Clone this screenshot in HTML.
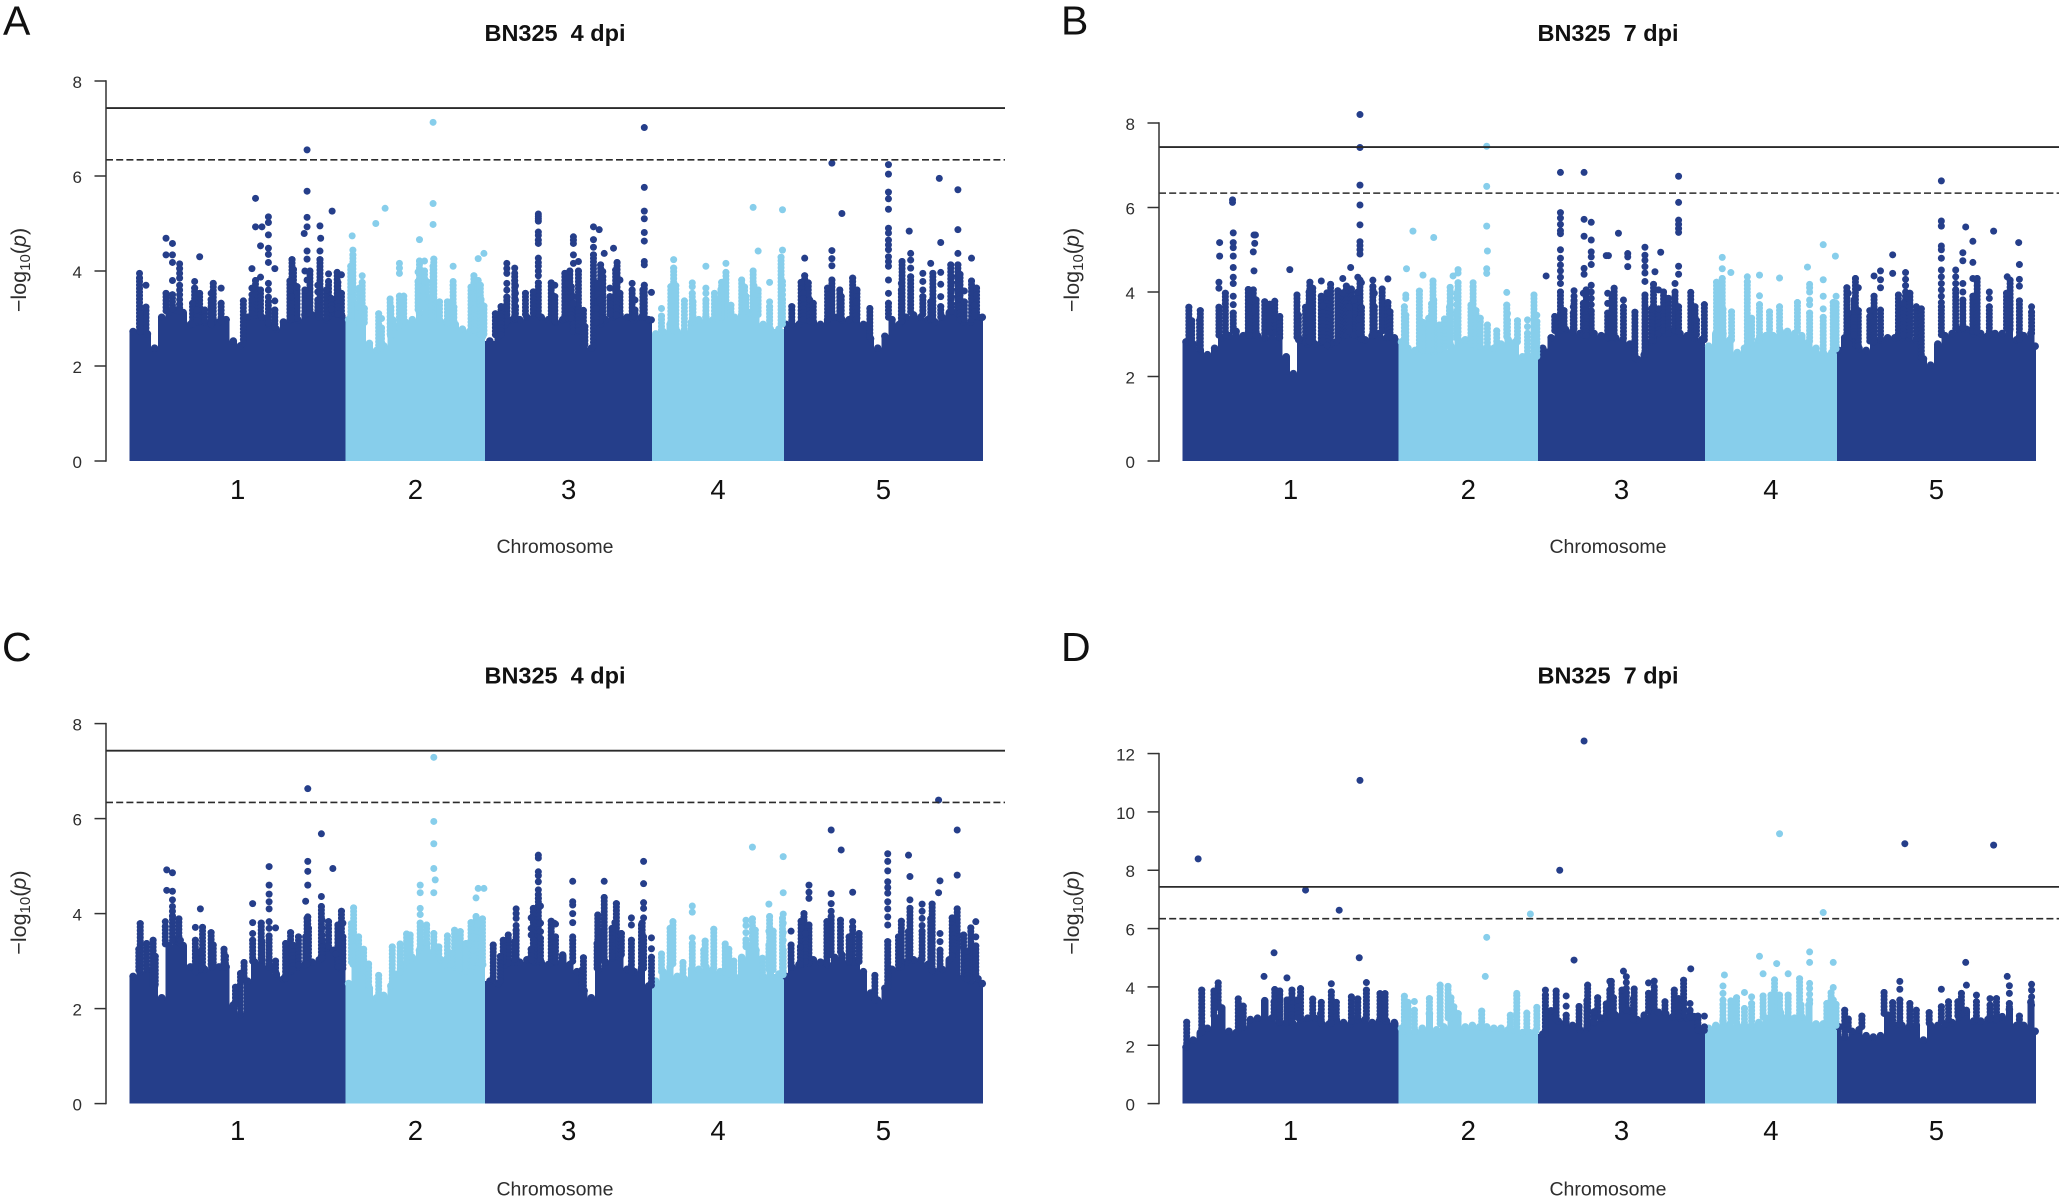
<!DOCTYPE html>
<html lang="en">
<head>
<meta charset="utf-8">
<title>BN325 Manhattan plots</title>
<style>
html,body{margin:0;padding:0;background:#fff;}
svg{display:block;}
text{font-family:"Liberation Sans",sans-serif;fill:#2e2e2e;}
.letter{font-size:41px;fill:#111;}
.title{font-size:23.5px;font-weight:bold;fill:#111;white-space:pre;}
.xtitle{font-size:19.5px;text-anchor:middle;}
.ytitle{font-size:21.5px;text-anchor:middle;}
</style>
</head>
<body>
<svg id="fig" xmlns="http://www.w3.org/2000/svg" width="2063" height="1200" viewBox="0 0 2063 1200">
  <rect width="2063" height="1200" fill="#ffffff"/>

  <g id="panel-a"></g>
  <text class="letter" x="3" y="34.5">A</text>
  <text class="title" x="555" y="41" text-anchor="middle" xml:space="preserve">BN325  4 dpi</text>
  <text class="xtitle" x="555" y="553">Chromosome</text>
  <text class="ytitle" transform="translate(26,270) rotate(-90)">−log<tspan font-size="15" dy="4">10</tspan><tspan dy="-4">(</tspan><tspan font-style="italic">p</tspan>)</text>

  <g id="panel-b"></g>
  <text class="letter" x="1061" y="34.5">B</text>
  <text class="title" x="1608" y="41" text-anchor="middle" xml:space="preserve">BN325  7 dpi</text>
  <text class="xtitle" x="1608" y="553">Chromosome</text>
  <text class="ytitle" transform="translate(1079,270) rotate(-90)">−log<tspan font-size="15" dy="4">10</tspan><tspan dy="-4">(</tspan><tspan font-style="italic">p</tspan>)</text>

  <g id="panel-c"></g>
  <text class="letter" x="2" y="661">C</text>
  <text class="title" x="555" y="683.6" text-anchor="middle" xml:space="preserve">BN325  4 dpi</text>
  <text class="xtitle" x="555" y="1195.6">Chromosome</text>
  <text class="ytitle" transform="translate(26,912.6) rotate(-90)">−log<tspan font-size="15" dy="4">10</tspan><tspan dy="-4">(</tspan><tspan font-style="italic">p</tspan>)</text>

  <g id="panel-d"></g>
  <text class="letter" x="1061" y="661">D</text>
  <text class="title" x="1608" y="683.6" text-anchor="middle" xml:space="preserve">BN325  7 dpi</text>
  <text class="xtitle" x="1608" y="1195.6">Chromosome</text>
  <text class="ytitle" transform="translate(1079,912.6) rotate(-90)">−log<tspan font-size="15" dy="4">10</tspan><tspan dy="-4">(</tspan><tspan font-style="italic">p</tspan>)</text>
</svg>

<script>
const chromosomes = ['1', '2', '3', '4', '5'];
const chromLengthsMb = [30.2, 19.45, 23.35, 18.4, 27.8];
const genomeWideThreshold = 7.43;
const suggestiveThreshold = 6.34;

const ticksA = [0, 2, 4, 6, 8];
const ticksB = [0, 2, 4, 6, 8];
const ticksC = [0, 2, 4, 6, 8];
const ticksD = [0, 2, 4, 6, 8, 10, 12];

/* Height of the dense band of SNPs (-log10 p) per 1 Mb of genome */
const coreA = [2.8,2.8,2.75,2.45,3.1,3.2,3.25,3.2,2.95,3.0,
3.0,2.95,3.0,3.05,2.6,2.5,3.1,3.15,3.1,2.95,
2.85,3.0,3.05,3.05,3.15,3.15,3.1,3.05,3.2,3.15,
3.05,3.1,2.95,2.55,2.4,2.5,2.7,2.9,3.0,3.05,
3.2,3.3,3.1,3.0,2.95,2.95,2.85,2.8,2.8,2.7,
2.6,2.7,2.95,3.05,3.05,3.1,3.15,3.1,3.05,3.0,
3.05,3.05,2.8,2.5,2.45,2.95,3.05,3.1,3.15,3.1,3.05,3.1,3.05,
2.75,2.8,2.95,2.8,2.8,3.0,3.05,3.1,3.05,3.05,3.1,3.1,3.15,3.2,3.15,2.95,2.85,2.85,2.95,
2.95,2.95,3.05,3.0,2.95,3.05,3.1,3.05,3.05,3.05,2.95,2.65,2.45,2.7,3.05,2.95,3.1,3.15,3.1,3.05,3.0,3.1,3.2,3.2,3.0,3.0,3.1,3.1];

const coreB = [2.9,2.85,2.7,2.6,2.75,3.0,3.05,3.15,3.05,3.05,
3.05,3.0,3.05,3.0,2.55,2.15,2.95,2.85,2.85,2.9,
2.8,2.9,3.05,3.1,3.05,2.95,3.05,3.1,3.0,3.0,
2.9,2.75,2.7,2.7,2.65,2.65,2.7,2.8,2.95,2.95,
2.85,2.8,2.75,2.75,2.85,2.95,2.9,2.55,2.55,2.5,
2.75,3.0,3.15,3.2,3.15,3.1,3.05,3.1,3.05,3.0,
3.0,2.95,2.85,2.5,2.6,2.9,3.1,3.1,3.15,3.1,3.05,3.0,2.95,
2.8,3.1,3.1,2.95,2.65,2.75,2.85,2.95,3.05,3.05,3.15,3.15,3.1,3.05,2.9,2.75,2.65,2.65,2.7,
3.0,3.0,2.75,2.7,2.9,2.95,3.0,3.0,3.0,3.0,2.95,2.5,2.35,2.85,3.05,3.1,3.2,3.2,3.1,3.1,3.05,3.1,3.1,3.15,2.95,3.05,3.1,2.8];

const coreC = [2.75,2.85,2.9,2.55,2.3,3.4,3.5,3.4,2.95,2.85,
2.9,2.95,2.95,2.95,2.15,1.95,2.65,3.05,3.1,2.95,
2.8,2.7,2.85,2.95,3.0,3.05,3.1,3.35,3.3,2.9,
2.6,3.0,2.85,2.5,2.3,2.35,2.55,2.8,3.0,3.15,
3.3,3.45,3.3,3.1,2.95,2.95,2.85,2.85,3.05,3.0,
2.65,2.6,3.0,3.05,3.05,3.1,3.05,3.05,3.0,3.05,
3.2,3.0,2.85,2.45,2.3,2.9,3.05,3.15,3.15,2.9,2.85,2.9,2.55,
2.65,2.85,2.95,2.75,2.7,2.9,2.9,2.95,2.9,2.85,2.8,2.75,3.15,3.35,3.3,2.75,2.85,2.8,2.75,
2.95,3.0,3.0,3.1,3.05,3.0,3.15,3.2,3.05,3.05,2.85,2.4,2.25,2.5,2.9,2.95,3.05,3.1,3.1,3.0,2.85,2.9,3.1,3.3,2.75,2.65,2.7,2.6];

const coreD = [2.05,2.3,2.55,2.7,3.1,3.4,2.6,2.55,2.75,3.0,
3.05,3.65,3.05,2.9,2.9,2.85,3.0,3.05,3.05,2.85,
2.85,3.0,2.9,2.85,3.0,3.0,2.9,2.95,2.95,2.9,
2.7,2.55,2.6,2.7,3.2,2.65,2.75,3.05,3.2,2.75,
2.8,2.75,2.75,2.7,2.7,2.65,2.6,2.55,2.55,2.6,
2.5,3.3,2.95,2.9,2.8,2.65,2.7,2.9,3.05,3.1,
3.15,3.3,3.3,3.0,3.15,3.3,3.25,3.2,3.1,3.05,3.05,3.1,2.6,
2.7,2.8,2.95,2.85,2.8,2.8,2.8,2.9,3.05,3.1,3.25,3.1,3.05,3.1,3.5,2.85,2.85,2.8,2.75,
2.4,2.6,2.65,2.45,2.4,2.45,3.15,2.8,2.8,2.75,2.8,2.3,2.8,2.8,2.85,2.9,3.1,3.25,2.95,2.95,3.0,3.0,3.1,3.35,2.8,2.8,3.6,2.6];

/* Individually visible SNPs: [position in Mb, -log10 p, -log10 p, ...] */
const hitsA = [[1.4,3.95,3.85],[2.3,3.7,3.24],[1.5,3.1],[5.1,4.69,4.34,3.53],[6,4.58,4.34,4.18,3.8,3.5],[7,4.15,4.05,3.95,3.85,3.7,3.6,3.5,3.4,3.3],
[9.8,4.3,3.53],[9.1,3.78,3.64],[11.7,3.74],[11.4,3.53,3.4],[12.8,3.64,3.32],[8.8,3.32],[9.4,3.18],[10.5,3.18],[15.9,3.37],
[17.6,5.53,4.93,3.8],[18.5,4.93],[19.4,5.14,5.02,4.76,4.48,4.35,4.18,3.74,3.6,3.45,3.35],[18.3,4.53,3.87,3.6],[20.3,4.05,3.37,3.18],[17.1,4.05,3.64,3.5,3.4],
[24.8,6.55,5.68,5.13,4.93,4.42,4.25,3.81,3.35],[24.4,4.79],[26.6,4.95,4.42,4.24],[26.7,4.69],[28.3,5.26],[22.7,4.24],[22.9,4.03],[24.5,4,3.6],[25.2,4],[22.4,3.79],[23.4,3.67],[26.3,3.7,3.56,3.39],[27.8,3.94,3.78],[27.5,3.6],[29,3.97],[29.6,3.92,3.53],[29.1,3.76],[22.6,3.46],[28.2,3.42],
[31.1,4.74,3.85,3.7,3.4],[31.2,4.44,4.34],[30.9,4.1],[31,3.58],[32.5,3.9,3.76],[32.1,3.64],[31.9,3.25],[32.8,3.21],[34.4,5],[35.7,5.32],[40.5,4.66,4.21],[41.2,4.21,4],[42.5,4.25],[42.4,7.13,5.42,4.98,4.1],[37.7,4.16,4.06,3.95,3.47],[40.3,3.98,3.78],[41.5,3.78],[45.2,4.1,3.78,3.7],[48.7,4.26,3.8],[49.5,4.37,3.26],[48.1,3.9],[49,3.7],[47.7,3.66],[48,3.42],[49.1,3.4],[48.2,3.2],[36.4,3.41],[36.5,3.24],[38.3,3.47],[34.8,3.1],[35.2,3,2.8],[36.8,2.97],[41,3.6,3.46],[42.2,3.42],[43.3,3.35],[44.4,3.35],[45.3,3.24],
[52.7,4.16,4.05,3.95,3.74,3.6,3.45],[53.8,4.06,3.95,3.88,3.8],[53.9,3.69,3.53,3.39,3.25],[55.3,3.53],[57.1,5.2,5.15,5.1,5.05,4.82,4.75,4.65,4.58,4.27,4.18,4.1,4,3.9,3.75],[56.4,3.56],[58.9,3.75],[59.4,3.7,3.46],[51.1,3.1],[51.9,3.25],
[71.9,7.02,5.76,5.26,5.1,4.81,4.63,4.2,4.13,3.7],[62,4.72,4.65,4.58,4.34,4.16,3.46,3.32],[62.7,4.2,4],[60.8,3.95],[61.5,4],[61.3,3.85,3.74],[61.7,3.67],[63.4,3.17],[63.6,2.83],[64.8,4.93,4.66,4.5,4.34],[65.6,4.87],[66.3,4.37],[67.6,4.48],[68.1,4.18],[67.9,4.02],[65.8,4.13],[66.1,3.99,3.88],[65.4,3.74],[68.5,3.81,3.53],[68,3.74],[67.1,3.64,3.46],[70.2,3.74,3.6],[71.7,3.6],[72.9,3.55,2.97],[65.7,3.39],[65.2,3.21],[70.6,3.39,3.18],
[76,4.24,4.06],[75.6,3.67],[76.3,3.69],[75.7,3.46,3.39],[74.3,3.21,3.05],[77.5,3.37],[78.6,3.75,3.67,3.53],[78.7,3.35],[80.5,4.1,3.64,3.53,3.39],[83.3,4.16,3.97],[82.7,3.76],[82.6,3.61],[81.7,3.53],[82.2,3.39],[84,3.28],[87.1,5.34,4],[87.8,4.42,3.6],[85.5,3.81],[85.9,3.66],[87.2,3.69],[89.4,3.76,3.35,3.25],[86.1,3.46],[87.4,3.35,3.21],[91.2,5.29,4.44,3.78,3.7,3.6,3.5,3.4],[91,4.29],
[94.3,4.27,3.9],[93.8,3.76],[94.8,3.75],[94.1,3.53,3.42],[95,3.39],[95.5,3.32],[92.5,3.25],[98.1,6.27,4.43,4.26,4.11,3.81],[97.5,3.64],[99.2,3.6],[99.4,3.46],[99.5,5.21],[101,3.85],[101.6,3.6],[101.5,3.35],[103.4,3.21],
[106,6.24,6.04,5.66,5.52,5.3,4.9,4.8,4.65,4.55,4.45,4.3,4.2,4.1,3.81,3.53,3.32],[108.9,4.84],[107.9,4.2],[109.1,4.37,4.23,4.06,3.88],[107.8,3.74,3.6],[110.8,3.95,3.78,3.6,3.46],[111.9,4.16,3.35],[112.2,3.95],[113.1,5.95],[113.3,4.6,3.97,3.72,3.46,3.25],[115.7,5.71,4.87,4.37,4.13],[114.7,4.13],[114.8,3.88,3.75,3.6,3.45,3.3],[116,3.93],[116.6,3.58,3.35],[117.6,4.27,3.79],[118.3,3.64],[118,3.28]];

const hitsB = [[24.8,8.2,7.42,6.53,6.06,5.59,5.19,5.1,5,4.9,4.28],[23.5,4.58],[7,6.18,6.12],[7.1,5.4,5.17,5.05,4.85,4.58,4.35,4.2,3.9,3.7,3.5],[5.2,5.17,4.85],[5.1,4.23,4.09,3.64],[6,3.97],[10,5.35,4.5],[10.2,5.35],[10.1,5.15,3.57],[9.9,4.95,4.05],[9.2,4.06],[9.4,3.8],[10.3,3.81],[0.9,3.64],[2.5,3.56],[1.3,3.32],[2.4,3.33],[11.5,3.77],[12.9,3.78],[12.2,3.71],[13.6,3.42],[15,4.53],[16,3.93],[17.2,3.64],[16.2,3.45],[17.8,4.23],[18.2,4.09],[17.7,4],[19.4,4.26,3.9],[20.7,4.18],[20.2,3.98],[19.6,3.67],[22.4,4.32,3.98],[21.7,4.03],[22.9,4.14],[23.6,4.07],[24.5,4.35,4],[25,4.22,3.63],[24,3.81],[23.3,3.65],[24.7,3.37],[26.6,4.28,4.13],[27.9,4.07],[26.8,3.97,3.65],[28.7,4.31,3.75],[29,3.53],
[32.2,5.44],[35.1,5.29,3.81],[31.3,4.55],[33.6,4.4,3.28],[35,4.26],[33.1,4.02],[31.2,3.93,3.85,3.45],[31,3.65],[34.8,3.72],[34.4,3.38],[36.6,3.36],[35.9,3.22],[38.5,4.53,4.45,4.22],[37.8,4.38],[37.4,4.11],[40.6,4.22,4.13],[38.3,3.97,3.85,3.7,3.55,3.49],[37.3,3.64],[40.3,3.69],[41,3.56],[41.6,3.38],[42.6,4.97,3.22],[42.5,7.45,6.5,5.56,4.55,4.44],[45.3,3.99,3.69],[45.4,3.49,3.33],[46.8,3.32],[49.1,3.93],[49.5,3.45,3.3],[48.2,3.34,3.18,3.02],[43.9,3.08],
[52.8,6.83,5.88,5.75,5.6,5.45,5.38,5,4.8,4.64,4.5,4.35,4.2,4],[50.8,4.38],[56.1,6.83,5.72,5.32,4.56,4.42],[57.1,5.65,5.23,4.95,4.83,4.65,4.16,4,3.85,3.7,3.55],[59.2,4.86],[54.7,4.03,3.9,3.8],[54.6,3.65,3.5],[56,3.97,3.73],[56.4,4.05],[59.4,3.97,3.73,3.5],[53.3,3.56],[52,3.42],
[60.9,5.39],[59.5,4.86],[62.2,4.91,4.83,4.6],[60.3,4.09],[60,3.93],[61.6,3.81,3.65],[63.2,3.52],[64.6,5.06,4.87,4.75,4.6,4.45,4.25,3.93],[66,4.48],[66.8,4.94],[65.8,4.18],[66.5,4.05,3.6],[67.2,4],[67.9,3.85],[68.8,4.2,4],[69.3,6.74,6.12,5.7,5.6,5.5,5.41,4.61,4.42,3.65],[71,3.99],[72.9,3.7],[71.6,3.65],[65.5,3.6],[71.8,3.33],
[75.4,4.82,4.55,4.32],[76.6,4.46],[74.6,4.23],[78.9,4.36,4.24],[80.6,4.4,3.91,3.7],[83.4,4.33,3.65],[82,3.53],[85.9,3.75],[87.3,4.59],[87.6,4.18,4.1,4,3.81,3.7,3.5],[89.5,5.12,4.29,3.9,3.6,3.4],[91.2,4.85,3.52],[90.9,3.75],[91.3,3.9,3.73],[75.5,3.59],[76.7,3.53],[79.5,3.38],
[94,4.32],[92.8,4.1],[94.4,4.1,3.56],[93,3.97,3.5],[93.8,3.81],[96,3.56,3.42],[97.5,4.5,4.29,4.1,3.57],[96.6,4.38,3.9],[99.2,4.88,4.44],[101,4.46,4.3,4.15,4,3.9],[100,3.93],[101.6,3.97],[100.7,3.73],[102.5,3.65],[103.2,3.6],[106,6.63,5.68,5.56,5.09,5,4.8,4.52,4.36,4.2,4.05,3.9,3.75,3.65],[109.4,5.54],[110.4,5.2,4.7,4.32,3.9],[109,4.93,4.74,4.2,4,3.81],[108,4.52,4.36,4.2,4.05],[111,4.32],[113.3,5.44],[112.7,4,3.85,3.65],[116.8,5.17],[116.9,4.65,4.3,4.14,3.79],[115.2,4.36],[115.6,4.28],[115.1,3.97],[118.6,3.65,3.52]];

const hitsC = [[24.9,6.63,5.1,4.89,4.6,3.93],[26.8,5.68,4.36,4.15],[28.4,4.95],[24.6,4.26,3.51],[5.2,4.92,4.49],[6,4.86,4.47,4.29,4.15,4.05,3.95],[6.9,3.89],[5,3.83,3.73],[1.5,3.79],[9.9,4.1,3.2],[9.2,3.71,3.44],[10.2,3.71],[11.4,3.6],[11.7,3.34],[2.4,3.37],[3.3,3.44],[1.3,3.25],[3.6,3.1],[13.2,3.25],[13.4,3.1],[7.1,3.44],[16,2.97],[15.5,2.74],[14.8,2.45],
[19.5,4.99,4.6,4.41,4.25,4.1,3.83,3.69,3.53],[17.2,4.21,3.81,3.58,3.44],[18.4,3.8],[20.4,3.7,3],[18.5,3.41],[22.5,3.6],[21.8,3.37],[22.8,3.34],[23.6,3.51],[25,3.69],[24.8,3.9],[26.9,3.86,3.7,3.55,3.44],[27.8,3.83],[29.1,3.76],[29.6,4.05],[29.8,3.8,3.51],[29.2,3.55],[28.8,3.15],
[31.3,4.12],[31,3.79],[31.2,3.62,3.3],[32,3.51],[32.7,3.25],[33.4,2.94],[34.8,2.7],[40.6,4.6,4.44,4.11,3.98,3.8],[42.5,7.29,5.94,5.47,4.95,4.44,3.58],[42.7,4.71],[41.5,3.76],[38.7,3.57],[39.2,3.55],[43.2,3.3],[36.7,3.3],[37.8,3.36],[48.7,4.53,3.8],[49.5,4.53],[48.4,4.33,3.94],[49.3,3.89],[47.7,3.81],[49.2,3.6],[48,3.51,3.23],[44.4,3.53],[45.4,3.65],[46.2,3.62],[46,3.41],[47,3.37],[45,3.16],[44.1,3],
[57.1,5.23,5.17,4.88,4.8,4.67,4.5,4.4,4.32],[57.4,4.16,3.8,3.62,3.48],[56.4,4.11],[54,4.1,4,3.9,3.75,3.65],[56.1,3.91,3.69,3.55,3.25],[58.9,3.84],[59.3,3.8,3.51],[50.8,3.34],[52.9,3.55],[52.2,3.44],[53.8,3.41],[51.8,3.1],
[71.8,5.1,4.63,4.23,4.11,3.91,3.51,3.44],[71.5,3.76],[72.9,3.49,3.26,3.08],[61.9,4.68,4.25,4.18,4,3.81,3.51,3.44],[59.5,3.78,3.51],[63.4,3.07],[63.2,2.81],[66.3,4.68,4.34],[68,4.21],[65.4,3.97],[65.5,3.63],[67.8,3.81],[67.4,3.69],[70.1,3.91,3.76,3.44],[68.7,3.58],[71.6,3.8],[65.3,3.37],
[78.6,4.16,4.03,3.49,3.37],[75.9,3.83],[75.5,3.69],[75.6,3.51],[74.3,3.15],[80.4,3.42],[81.6,3.67],[83.2,3.36],[83.7,3.25],[80.2,3.23],[87,5.4,3.89],[91.3,5.2,4.44,3.99,3.8,3.6,3.44,3.23],[89.3,4.2,3.63,3.34],[89.4,3.94],[91.2,3.9],[89.9,3.63],[86.1,3.86,3.75,3.6,3.45],[87.4,3.65],[88.4,3.06],[84.4,3],[77.3,2.97],
[92.4,3.63,3.34],[94.9,4.6,4.45,4.32,3.76],[94.2,4],[93.8,3.84],[94.4,3.58],[93.7,3.3],[98,5.76,4.42,4.21,4.05,3.94],[99.4,5.34],[101,4.45,3.83,3.72],[97.4,3.83],[99.3,3.86],[101.9,3.58],[100.5,3.51],[104.1,2.7],[105.9,5.26,5.1,4.9,4.67,4.55,4.43,4.25,4.1,3.93,3.76,3.41],[108.8,5.23,3.62],[109,4.78,4.29,4.11],[107.8,3.84],[110.7,4.2,4.05,3.9,3.75,3.63],[111.9,3.89],[112.1,4.2],[107.4,3.51],[113,6.39,4.44],[113.2,4.69,3.58,3.41,3.23],[115.6,5.76,4.81,4.1],[114.9,3.91],[115.1,3.69],[116.5,3.55],[117.5,3.7],[118.2,3.83,3.51,3.32],[117,3.21]];

const hitsD = [[2.2,8.39],[17.2,7.32],[21.9,6.63],[12.8,5.17,3.49],[24.7,5],[24.8,11.08],[11.4,4.36],[14.6,4.31,3.55],[5,4.14],[2.7,3.89],[4.4,3.86],[12.9,3.91],[13.6,3.86],[15.3,3.89],[16.5,3.94],[20.8,4.11,3.83],[25.7,4.15,3.89],[27.6,3.77],[28.3,3.77],[7.8,3.59],[8.5,3.34],[0.6,2.79],[18.2,3.58],[19.4,3.47],[23.6,3.66],[24.5,3.59],[19.3,3.08],[16.1,3.55],[21.5,3.47],
[42.5,5.7],[42.3,4.36],[48.6,6.5],[36,4.06],[37.1,4.02],[31,3.68],[32.4,3.5,3.2],[34.5,3.6],[37.5,3.63],[46.7,3.78,3.7],[31.5,3.47],[41.8,3.17],[48.1,3.1],[37.9,3.32],[45.8,3.03],[49.5,3.3],
[52.7,8],[56.1,12.43],[54.7,4.92],[50.7,3.89,3.72],[52.2,3.86],[53.6,3.69,3.34,3.03],[55.4,3.33],[56.6,4.06],[56.5,3.53],[58,3.63],[59.2,3.42],[59.7,4.19,3.89],[57.5,3.15],[61.6,4.54],[62,4.35,4.15,3.95,3.8],[59.9,4.19],[60.2,3.63],[63.1,3.93],[61.4,3.89],[71,4.62],[70,4.23],[65.1,4.14,3.78],[65.9,4.2,4],[68.7,3.89],[69.3,3.6],[63,3.6],[67.4,3.49],[70.9,3.43,3.2],[72,3],[72.9,3,2.63],
[83.4,9.25,3.72],[89.5,6.55],[80.6,5.05],[83,4.8],[87.6,5.2,4.84,4.12,3.95,3.75,3.55],[90.9,4.84,3.98,3.55],[75.7,4.41],[81.1,4.45,3.69],[84.6,4.45,3.72],[82.7,4.24],[86.2,4.28],[75.5,4.03,3.78,3.55,3.4],[90.6,3.8],[82.2,3.72],[78.5,3.81,3.26],[79.5,3.66,3.43],[77.4,3.63],[76.6,3.52],[86.4,3.38],[90,3.43],[91.3,3.4],
[100.9,8.91],[113.3,8.86],[109.4,4.84],[115.2,4.36],[98,3.81],[100.2,4.19,3.92,3.55],[106,3.92,3.32],[109.5,4.06,3.2],[108.8,3.78],[110.9,3.72,3.49],[112.8,3.6,3.38],[113.7,3.6],[115.5,4.04,3.78,3.43],[118.6,4.09,3.89,3.66,3.38],[99.2,3.46],[101.6,3.43],[102.5,3.2],[104.3,3.12],[107,3.49],[116.9,3],[92.5,3.2],[93,2.9],[94.9,3],[108.3,3.49]];

const NS = 'http://www.w3.org/2000/svg';
const NAVY = '#253e8a';
const SKY = '#87ceeb';
const DOT_R = 3.5;
const PX_PER_MB = 7.16;
const TICK_LEN = 11.5;
const STEM_LIMIT = 4.35;
const STEM_STEP_PX = 3.5;

const layouts = [
  {id:'panel-a', plotLeft:129.5,  axisX:106,  lineEnd:1005, yZero:461,    pxPerUnit:47.5,  core:coreA, hits:hitsA, ticks:ticksA, labelY:499},
  {id:'panel-b', plotLeft:1182.4, axisX:1159, lineEnd:2059, yZero:461,    pxPerUnit:42.25, core:coreB, hits:hitsB, ticks:ticksB, labelY:499},
  {id:'panel-c', plotLeft:129.5,  axisX:106,  lineEnd:1005, yZero:1103.6, pxPerUnit:47.5,  core:coreC, hits:hitsC, ticks:ticksC, labelY:1140},
  {id:'panel-d', plotLeft:1182.4, axisX:1159, lineEnd:2059, yZero:1103.6, pxPerUnit:29.17, core:coreD, hits:hitsD, ticks:ticksD, labelY:1140}
];

function chromStart(c) {
  let s = 0;
  for (let i = 0; i < c; i++) s += chromLengthsMb[i];
  return s;
}
function chromOf(mb) {
  let s = 0;
  for (let i = 0; i < chromLengthsMb.length; i++) {
    s += chromLengthsMb[i];
    if (mb < s) return i;
  }
  return chromLengthsMb.length - 1;
}
function chromColor(c) {
  return c % 2 === 0 ? NAVY : SKY;
}
function svgEl(tag, attrs) {
  const el = document.createElementNS(NS, tag);
  for (const k in attrs) el.setAttribute(k, attrs[k]);
  return el;
}

function drawPanel(p) {
  const root = document.getElementById(p.id);
  const xScale = mb => p.plotLeft + mb * PX_PER_MB;
  const yScale = v => p.yZero - v * p.pxPerUnit;

  /* dense band, one column per Mb */
  p.core.forEach((value, i) => {
    const c = chromOf(i + 0.5);
    const start = chromStart(c);
    const end = start + chromLengthsMb[c];
    const isFirst = i === 0 || chromOf(i - 0.5) !== c;
    const isLast = i === p.core.length - 1 || chromOf(i + 1.5) !== c;
    const from = isFirst ? start : i;
    const to = isLast ? end : i + 1;
    if (to <= from) return;
    const topY = yScale(value);
    const col = svgEl('rect', {
      x: xScale(from).toFixed(2),
      y: (topY + DOT_R).toFixed(2),
      width: ((to - from) * PX_PER_MB).toFixed(2),
      height: (p.yZero - topY - DOT_R).toFixed(2),
      fill: chromColor(c),
      'shape-rendering': 'crispEdges'
    });
    
    
    root.appendChild(col);
    const mid = Math.min((from + to) / 2, end - 0.1);
    const cap = svgEl('circle', {
      cx: xScale(mid).toFixed(2),
      cy: (topY + DOT_R).toFixed(2),
      r: DOT_R + 0.3,
      fill: chromColor(c)
    });
    
    
    root.appendChild(cap);
  });

  /* dense stems of SNPs below each lower hit, down to the band */
  p.hits.forEach(h => {
    const mb = h[0];
    const c = chromOf(mb);
    const lowest = Math.min.apply(null, h.slice(1));
    if (lowest > STEM_LIMIT) return;
    const bottomY = yScale(p.core[Math.min(Math.floor(mb), p.core.length - 1)]) + DOT_R;
    for (let y = yScale(lowest); y < bottomY; y += STEM_STEP_PX) {
      const stem = svgEl('circle', {
        cx: xScale(mb).toFixed(2),
        cy: y.toFixed(2),
        r: DOT_R,
        fill: chromColor(c)
      });
      
      
      root.appendChild(stem);
    }
  });

  /* individual SNP points */
  p.hits.forEach(h => {
    const mb = h[0];
    const c = chromOf(mb);
    for (let k = 1; k < h.length; k++) {
      const dot = svgEl('circle', {
        cx: xScale(mb).toFixed(2),
        cy: yScale(h[k]).toFixed(2),
        r: DOT_R,
        fill: chromColor(c)
      });
      
      
      root.appendChild(dot);
    }
  });

  /* thresholds */
  const solid = svgEl('line', {
    x1: p.axisX, x2: p.lineEnd,
    y1: yScale(genomeWideThreshold), y2: yScale(genomeWideThreshold),
    stroke: '#2b2b2b', 'stroke-width': 1.8
  });
  
  
  root.appendChild(solid);

  const dashed = svgEl('line', {
    x1: p.axisX, x2: p.lineEnd,
    y1: yScale(suggestiveThreshold), y2: yScale(suggestiveThreshold),
    stroke: '#2b2b2b', 'stroke-width': 1.6, 'stroke-dasharray': '7 3.2'
  });
  
  
  root.appendChild(dashed);

  /* y axis */
  const first = p.ticks[0];
  const last = p.ticks[p.ticks.length - 1];
  const axis = svgEl('line', {
    x1: p.axisX, x2: p.axisX,
    y1: yScale(first) + 0.7, y2: yScale(last) - 0.7,
    stroke: '#333', 'stroke-width': 1.5
  });
  
  
  root.appendChild(axis);

  p.ticks.forEach(t => {
    const tick = svgEl('line', {
      x1: p.axisX - TICK_LEN, x2: p.axisX,
      y1: yScale(t), y2: yScale(t),
      stroke: '#333', 'stroke-width': 1.5
    });
    
    
    root.appendChild(tick);

    const label = svgEl('text', {
      x: p.axisX - 24,
      y: yScale(t) + 7,
      'text-anchor': 'end',
      'font-size': 17
    });
    label.textContent = String(t);
    
    
    root.appendChild(label);
  });

  /* chromosome labels */
  chromosomes.forEach((name, c) => {
    const mid = chromStart(c) + chromLengthsMb[c] / 2;
    const label = svgEl('text', {
      x: xScale(mid).toFixed(2),
      y: p.labelY,
      'text-anchor': 'middle',
      'font-size': 27.5,
      style: 'fill:#111'
    });
    label.textContent = name;
    
    
    root.appendChild(label);
  });
}

layouts.forEach(drawPanel);
</script>
</body>
</html>
